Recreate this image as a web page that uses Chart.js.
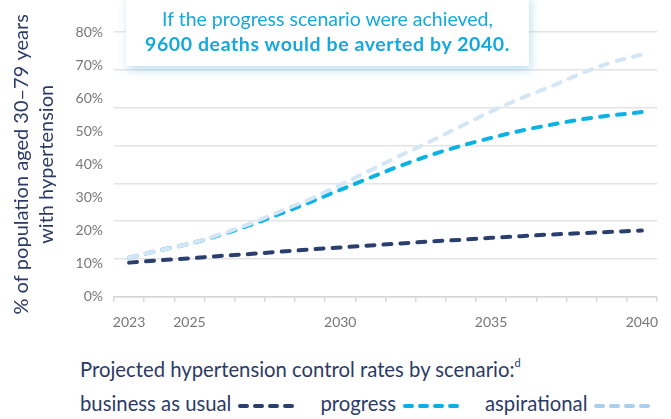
<!DOCTYPE html>
<html>
<head>
<meta charset="utf-8">
<script src="https://cdn.jsdelivr.net/npm/chart.js@4.4.1/dist/chart.umd.min.js"></script>
<style>
  html, body { margin: 0; padding: 0; background: #fff; }
  body { width: 671px; height: 419px; position: relative; overflow: hidden; font-family: Lato, sans-serif; }
  #chart { position: absolute; left: 0; top: 0; }
  .callout {
    position: absolute; left: 126px; top: -4px; width: 403px; height: 70px;
    background: #fff; box-shadow: 2px 4px 9px rgba(110, 185, 225, 0.45);
    color: #14a8de; text-align: center; font-size: 19.5px; line-height: 25px;
    box-sizing: border-box; padding-top: 10px;
  }
  .callout b { font-weight: 700; letter-spacing: 0.6px; }
  .legend { position: absolute; left: 80px; color: #2c3a66; font-size: 20.3px; white-space: nowrap; }
  .legend.l1 { top: 357px; }
  .legend.l2 { top: 391px; }
  .legend sup { font-size: 11px; vertical-align: 10px; line-height: 0; }
  .legend .item { display: inline-block; margin-right: 24px; }
  .legend svg { vertical-align: middle; margin-left: 7px; }
</style>
</head>
<body>
<canvas id="chart" width="671" height="340"></canvas>
<div class="callout">If the progress scenario were achieved,<br><b>9600 deaths would be averted by 2040.</b></div>
<div class="legend l1">Projected hypertension control rates by scenario:<sup>d</sup></div>
<div class="legend l2" id="legend"></div>
<script>
// ---------- data ----------
const years = ['2023', '2024', '2025', '2026', '2027', '2028', '2029', '2030', '2031',
  '2032', '2033', '2034', '2035', '2036', '2037', '2038', '2039', '2040'];
const shownYears = ['2023', '2025', '2030', '2035', '2040'];

const businessAsUsual = [10.3, 11.0, 11.6, 12.3, 12.9, 13.6, 14.3, 14.9, 15.5,
  16.1, 16.7, 17.2, 17.8, 18.3, 18.8, 19.2, 19.6, 20.0];
const progress = [11.8, 14.0, 16.0, 18.6, 21.6, 25.0, 28.6, 32.3, 36.0,
  39.6, 42.8, 45.6, 48.0, 50.2, 52.0, 53.6, 54.8, 55.8];
const aspirational = [11.8, 14.0, 16.0, 18.8, 22.0, 25.8, 29.5, 33.8, 38.2,
  42.7, 47.0, 51.5, 56.0, 60.0, 63.6, 67.5, 70.8, 73.2];

const seriesNames = ['business as usual', 'progress', 'aspirational'];
const yTitle = ['% of population aged 30\u201379 years', 'with hypertension'];

// ---------- styles ----------
const NAVY = '#2b3f6f';
const CYAN = '#0bb3e5';
const LIGHT = '#d4e6f6';
const LEGEND_COLORS = [NAVY, '#0bb0e3', '#a8cfee'];
const GRID = '#e4e4e4';
const TICK = '#777777';
const FONT = 'Lato, sans-serif';

function lineDataset(label, data, color, order) {
  return {
    label, data, order,
    borderColor: color,
    borderWidth: 4,
    borderDash: [8, 9],
    borderCapStyle: 'round',
    pointRadius: 0,
    fill: false,
    cubicInterpolationMode: 'monotone',
  };
}

new Chart(document.getElementById('chart'), {
  type: 'line',
  data: {
    labels: years,
    datasets: [
      lineDataset(seriesNames[0], businessAsUsual, NAVY, 0),
      lineDataset(seriesNames[1], progress, CYAN, 2),
      lineDataset(seriesNames[2], aspirational, LIGHT, 1),
    ],
  },
  options: {
    responsive: false,
    animation: false,
    devicePixelRatio: 1,
    layout: { padding: { top: 32, right: 14, left: 0, bottom: 0 } },
    plugins: { legend: { display: false }, tooltip: { enabled: false } },
    scales: {
      x: {
        offset: true,
        grid: { offset: true, drawOnChartArea: false, drawTicks: true, tickLength: 5, color: '#d6d6d6', lineWidth: 1.5 },
        border: { display: true, color: '#d6d6d6', width: 1.5 },
        ticks: {
          autoSkip: false, maxRotation: 0, color: TICK, padding: 12,
          font: { family: FONT, size: 14 },
          callback(v) { const l = this.getLabelForValue(v); return shownYears.includes(l) ? l : ''; },
        },
        afterFit(s) { s.height = 43.3; },
      },
      y: {
        position: 'left',
        min: 0, max: 80,
        grid: { display: false, drawTicks: false },
        border: { display: false },
        ticks: { stepSize: 10, color: TICK, padding: 11, font: { family: FONT, size: 14 }, callback: v => v + '%' },
        title: {
          display: true, text: yTitle, color: '#2c3a66',
          font: { family: FONT, size: 20, lineHeight: 1.25 },
          padding: { top: 9.5, bottom: 0 },
        },
        afterFit(s) { s.width = 114; },
      },
      // gridlines of the original are spaced independently of the tick labels
      yg: {
        position: 'left',
        min: 0, max: 7,
        grid: { color: GRID, lineWidth: 1.5, drawTicks: false },
        border: { display: false },
        ticks: { display: false, stepSize: 1 },
        afterFit(s) { s.width = 0; },
      },
    },
  },
});

// ---------- legend ----------
function dashSample(color) {
  return `<svg width="58" height="8"><line x1="2" y1="4" x2="56" y2="4" stroke="${color}" stroke-width="4" stroke-linecap="round" stroke-dasharray="7 8"/></svg>`;
}
document.getElementById('legend').innerHTML = seriesNames
  .map((n, i) => `<span class="item">${n}${dashSample(LEGEND_COLORS[i])}</span>`)
  .join('');
</script>
</body>
</html>
